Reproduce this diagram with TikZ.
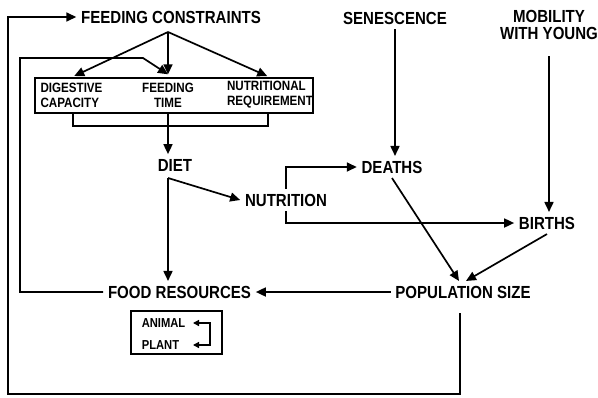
\documentclass[tikz,border=0pt]{standalone}
\usepackage{fontspec}
\setmainfont{Liberation Sans}[FakeStretch=0.86]
\usetikzlibrary{arrows.meta}
\usetikzlibrary{calc}

\begin{document}
\begin{tikzpicture}[x=10pt, y=-10pt, line width=1.7pt,
  >={Triangle[length=10pt,width=9pt]},
  lbl/.style={font=\bfseries\fontsize{17.5}{16.5}\selectfont, inner sep=4pt},
  boxlbl/.style={font=\bfseries\fontsize{13.5}{15}\selectfont, inner sep=2pt},
  foodlbl/.style={font=\bfseries\fontsize{13}{12}\selectfont, inner sep=1pt}]
  \useasboundingbox (0,0) rectangle (59.8,39.7);

  % top row
  \node[lbl] (fc) at (17.1,1.7) {FEEDING CONSTRAINTS};
  \node[lbl] (sen) at (39.5,1.8) {SENESCENCE};
  \node[lbl, align=center] (mob) at (54.9,2.5) {MOBILITY\\WITH YOUNG};

  % feeding box
  \node[draw, line width=1.4pt, minimum width=278pt, minimum height=35pt] (fbox) at (17.4,9.55) {};
  \node[boxlbl, align=left] (dig) at (7.15,9.5) {DIGESTIVE\\CAPACITY};
  \node[boxlbl, align=center] (ftime) at (16.8,9.5) {FEEDING\\TIME};
  \node[boxlbl, align=left] (nut) at (27.0,9.5) {NUTRITIONAL\\REQUIREMENT};

  \node[lbl] (diet) at (17.5,16.5) {DIET};
  \node[lbl] (nutr) at (28.6,20.0) {NUTRITION};
  \node[lbl] (deaths) at (39.2,16.7) {DEATHS};
  \node[lbl] (births) at (54.7,22.3) {BIRTHS};
  \node[lbl] (fr) at (17.95,29.2) {FOOD RESOURCES};
  \node[lbl] (pop) at (46.3,29.2) {POPULATION SIZE};

  % animal / plant
  \node[draw, line width=1.4pt, minimum width=91pt, minimum height=43pt] (kinds) at (17.65,33.25) {};
  \node[foodlbl, anchor=west] (anim) at (14.0,32.3) {ANIMAL};
  \node[foodlbl, anchor=west] (plant) at (14.0,34.5) {PLANT};
  \coordinate (cyc) at (21.0,33.4);
  \coordinate (atip) at (19.3,32.3);
  \coordinate (ptip) at (19.3,34.5);
  \draw[<->, line width=1.3pt, >={Triangle[length=6pt,width=6pt]}] (atip) -| (cyc) |- (ptip);

  \coordinate (fcj) at (16.8,3.2);
  \coordinate (dj) at (16.8,17.8);
  \coordinate (brl) at (7.3,12.6);
  \coordinate (brr) at (26.8,12.6);
  \coordinate (itop) at (2.0,5.8);
  \coordinate (ibend) at (14.3,5.8);
  \coordinate (lowr) at (46.0,39.4);
  \coordinate (uppl) at (0.8,1.7);

  \foreach \to in {dig, ftime, nut}
    \draw[->, shorten >=3pt] (fcj) -- (\to |- fbox.north);
  \draw (brl |- fbox.south) -- (brl) -- (brr) -- (brr |- fbox.south);
  \draw[->] (ftime |- fbox.south) -- (ftime |- diet.north);
  \draw[->] (dj) -- (dj |- fr.north);
  \draw[->] (dj) -- (nutr.west);
  \draw[->] (nutr.north) |- (deaths);
  \draw[->] (nutr.south) |- (births);
  \draw[->] (sen.south) -- (sen.south |- deaths.north);
  \draw[->, shorten <=12pt] (mob.south) -- (mob.south |- births.north);
  \draw[->] (deaths.south) -- ($(pop.north)+(-0.4,0)$);
  \draw[->] (births.south) -- ($(pop.north)+(0.3,0)$);
  \draw[->] (pop) -- (fr);
  % feedback loops
  \draw[->] (fr) -| (itop) -- (ibend) -- ([yshift=3pt]ftime |- fbox.north);
  \draw[->] (pop.south -| lowr) ++(0,1) -- (lowr) -| (uppl) -- (fc);
\end{tikzpicture}
\end{document}
